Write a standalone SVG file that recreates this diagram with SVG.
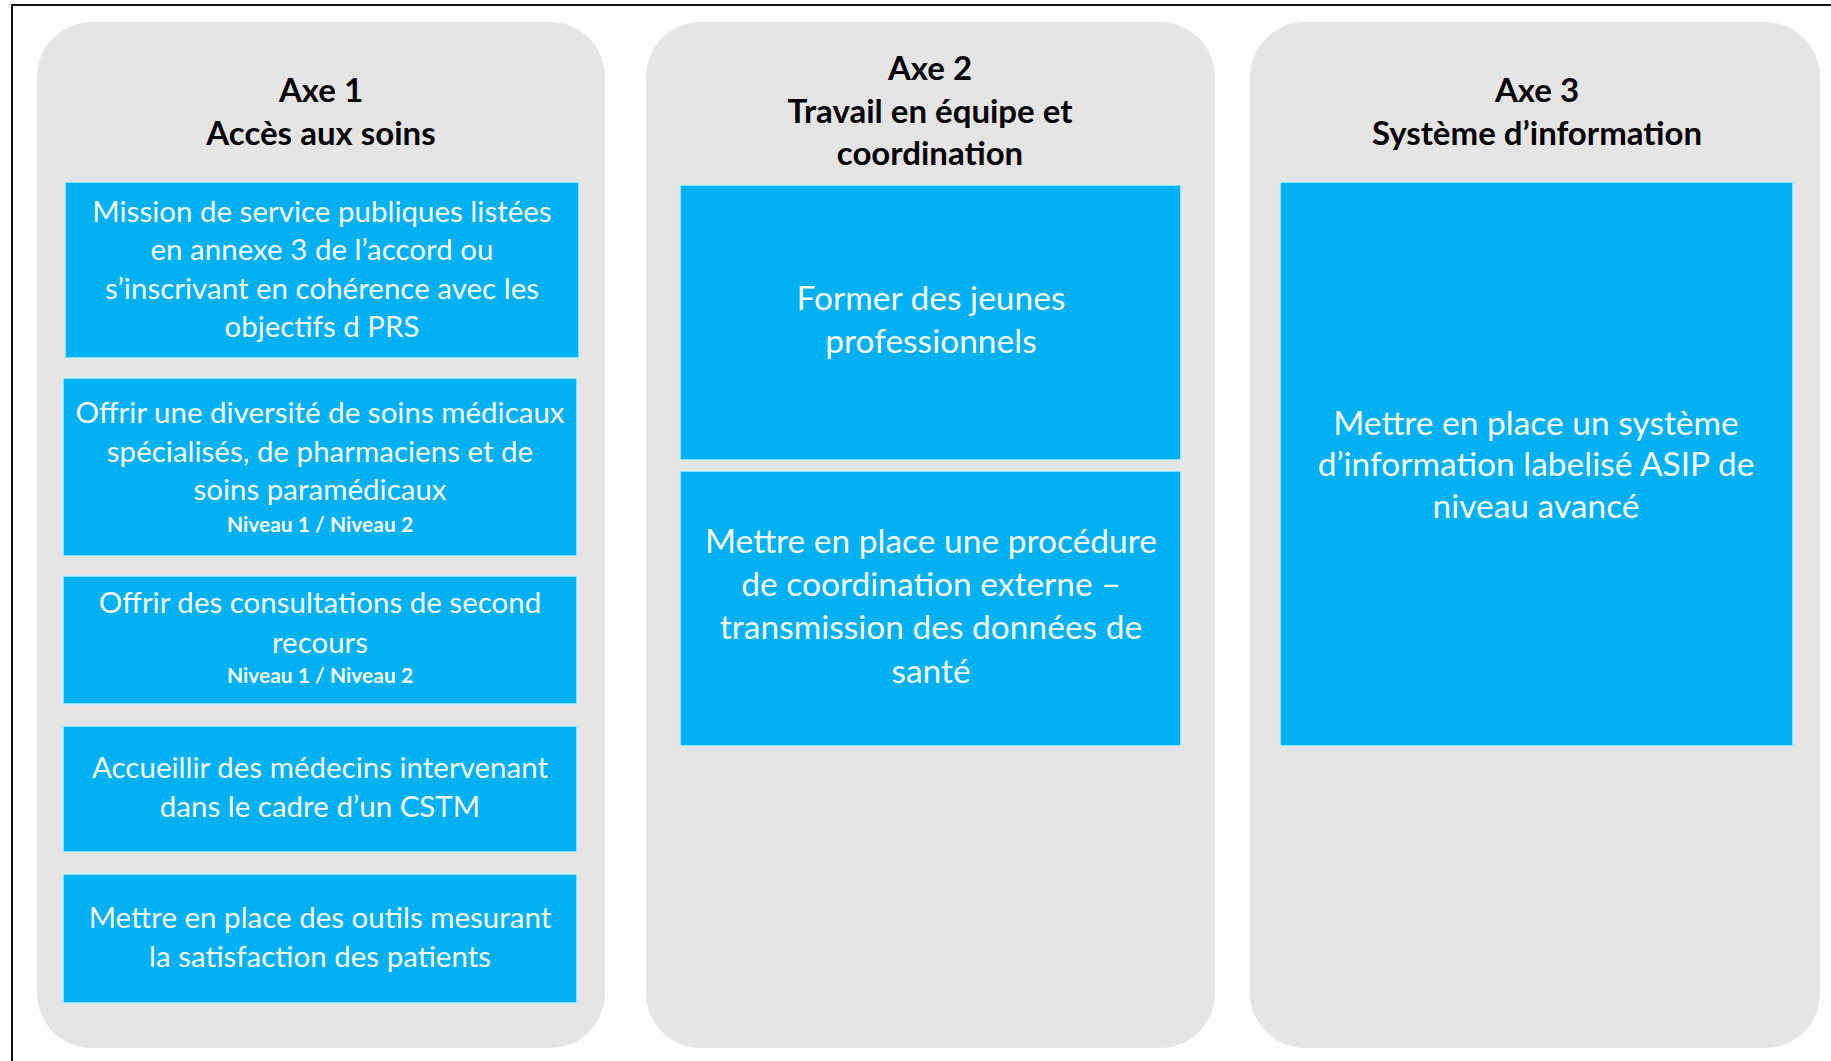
<svg xmlns="http://www.w3.org/2000/svg" width="1831" height="1061" viewBox="0 0 1831 1061">
<style>
.col{fill:#e6e5e6}
.box{fill:#00b0f0;stroke:#c4eefb;stroke-width:1.5}
.title{font-family:Lato,"Liberation Sans",sans-serif;font-weight:bold;font-size:33px;fill:#000;text-anchor:middle}
.t1{font-family:Lato,"Liberation Sans",sans-serif;font-size:29.5px;fill:#f4fcff;text-anchor:middle}
.t2{font-family:Lato,"Liberation Sans",sans-serif;font-size:33.5px;fill:#f4fcff;text-anchor:middle}
.small{font-family:Lato,"Liberation Sans",sans-serif;font-weight:bold;font-size:21px;fill:#f4fcff;text-anchor:middle}
.frame{stroke:#111;stroke-width:2;fill:none}
</style>
<rect width="1831" height="1061" fill="#fff"/>
<g id="frame">
<polyline class="frame" points="12,1061 12,5 1831,5"/>
</g>
<g id="axe1">
<rect class="col" x="37" y="22" width="568" height="1026" rx="55" ry="55"/>
<text class="title" x="321" y="102">Axe 1</text>
<text class="title" x="321" y="145">Accès aux soins</text>
</g>
<g id="axe1-mission">
<rect class="box" x="65" y="182" width="514" height="176"/>
<text class="t1" x="322" y="222">Mission de service publiques listées</text>
<text class="t1" x="322" y="260">en annexe 3 de l’accord ou</text>
<text class="t1" x="322" y="299">s’inscrivant en cohérence avec les</text>
<text class="t1" x="322" y="337">objectifs d PRS</text>
</g>
<g id="axe1-diversite">
<rect class="box" x="63" y="378" width="514" height="178"/>
<text class="t1" x="320" y="423">Offrir une diversité de soins médicaux</text>
<text class="t1" x="320" y="462">spécialisés, de pharmaciens et de</text>
<text class="t1" x="320" y="500">soins paramédicaux</text>
<text class="small" x="320" y="532">Niveau 1 / Niveau 2</text>
</g>
<g id="axe1-consultations">
<rect class="box" x="63" y="576" width="514" height="128"/>
<text class="t1" x="320" y="613">Offrir des consultations de second</text>
<text class="t1" x="320" y="653">recours</text>
<text class="small" x="320" y="683">Niveau 1 / Niveau 2</text>
</g>
<g id="axe1-cstm">
<rect class="box" x="63" y="726" width="514" height="126"/>
<text class="t1" x="320" y="778">Accueillir des médecins intervenant</text>
<text class="t1" x="320" y="817">dans le cadre d’un CSTM</text>
</g>
<g id="axe1-satisfaction">
<rect class="box" x="63" y="874" width="514" height="129"/>
<text class="t1" x="320" y="928">Mettre en place des outils mesurant</text>
<text class="t1" x="320" y="967">la satisfaction des patients</text>
</g>
<g id="axe2">
<rect class="col" x="646" y="22" width="569" height="1026" rx="55" ry="55"/>
<text class="title" x="930" y="80">Axe 2</text>
<text class="title" x="930" y="123">Travail en équipe et</text>
<text class="title" x="930" y="165">coordination</text>
</g>
<g id="axe2-former">
<rect class="box" x="680" y="185" width="501" height="275"/>
<text class="t2" x="931" y="310">Former des jeunes</text>
<text class="t2" x="931" y="353">professionnels</text>
</g>
<g id="axe2-coordination">
<rect class="box" x="680" y="471" width="501" height="275"/>
<text class="t2" x="931" y="553">Mettre en place une procédure</text>
<text class="t2" x="931" y="596">de coordination externe –</text>
<text class="t2" x="931" y="639">transmission des données de</text>
<text class="t2" x="931" y="683">santé</text>
</g>
<g id="axe3">
<rect class="col" x="1250" y="22" width="570" height="1026" rx="55" ry="55"/>
<text class="title" x="1537" y="102">Axe 3</text>
<text class="title" x="1537" y="145">Système d’information</text>
</g>
<g id="axe3-si">
<rect class="box" x="1280" y="182" width="513" height="564"/>
<text class="t2" x="1536" y="435">Mettre en place un système</text>
<text class="t2" x="1536" y="476">d’information labelisé ASIP de</text>
<text class="t2" x="1536" y="518">niveau avancé</text>
</g>
<g id="connectors"/>
</svg>
